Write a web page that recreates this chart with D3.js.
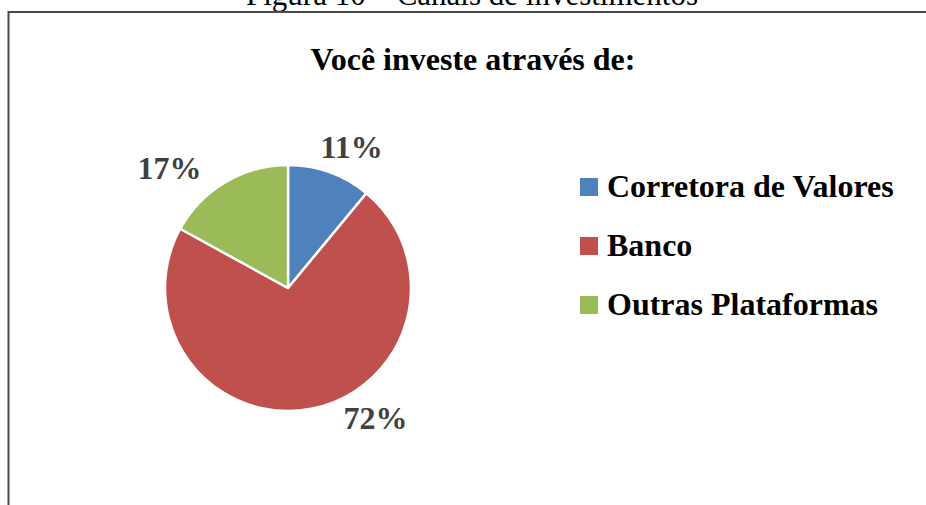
<!DOCTYPE html>
<html>
<head>
<meta charset="utf-8">
<script src="https://cdn.jsdelivr.net/npm/d3@7"></script>
<style>
  html, body { margin: 0; padding: 0; background: #fff; }
  svg { display: block; }
</style>
</head>
<body>
<svg id="chart" width="926" height="505"></svg>
<script>
// ---- data ----
const categories = ["Corretora de Valores", "Banco", "Outras Plataformas"];
const values = [11, 72, 17];
const colors = ["#4F81BD", "#C0504D", "#9BBB59"];
const chartTitle = "Você investe através de:";
const figureCaption = "Figura 10 – Canais de investimentos";

// ---- layout ----
const W = 926, H = 505;
const cx = 288, cy = 288, R = 123;
const labelRadius = 158;
// per-slice label offsets (in data order: Corretora, Banco, Outras)
const labelNudge = [[10, 19], [58, -14], [-38, 27]];
const fontFam = "'Liberation Serif', 'Times New Roman', serif";

const svg = d3.select("#chart");

// caption (cut off at top)
svg.append("text")
  .attr("x", 472).attr("y", 5)
  .attr("text-anchor", "middle")
  .style("font-family", fontFam)
  .style("font-size", "31px")
  .attr("fill", "#000")
  .text(figureCaption);

// border (left and top)
svg.append("path")
  .attr("d", `M8.5,${H} L8.5,12 L${W + 2},12`)
  .attr("fill", "none")
  .attr("stroke", "#4a4a4a")
  .attr("stroke-width", 2);

// title
svg.append("text")
  .attr("x", 473).attr("y", 70)
  .attr("text-anchor", "middle")
  .style("font-family", fontFam)
  .style("font-weight", "bold")
  .style("font-size", "32px")
  .attr("fill", "#000")
  .text(chartTitle);

// pie
const pie = d3.pie().sort(null).value(d => d);
const arcs = pie(values);
const arc = d3.arc().innerRadius(0).outerRadius(R);
const labelArc = d3.arc().innerRadius(labelRadius).outerRadius(labelRadius);

const g = svg.append("g").attr("transform", `translate(${cx},${cy})`);
g.selectAll("path.slice")
  .data(arcs)
  .enter().append("path")
  .attr("class", "slice")
  .attr("d", arc)
  .attr("fill", (d, i) => colors[i])
  .attr("stroke", "#fff")
  .attr("stroke-width", 2.5)
  .attr("stroke-linejoin", "round");

g.selectAll("text.pct")
  .data(arcs)
  .enter().append("text")
  .attr("class", "pct")
  .attr("x", (d, i) => labelArc.centroid(d)[0] + labelNudge[i][0])
  .attr("y", (d, i) => labelArc.centroid(d)[1] + labelNudge[i][1])
  .attr("text-anchor", "middle")
  .style("font-family", fontFam)
  .style("font-weight", "bold")
  .style("font-size", "32px")
  .attr("fill", "#404040")
  .text(d => d.data + "%");

// legend
const legendX = 580, legendY0 = 197, legendStep = 59;
const lg = svg.append("g");
categories.forEach((c, i) => {
  const y = legendY0 + i * legendStep;
  lg.append("rect")
    .attr("x", legendX).attr("y", y - 19)
    .attr("width", 18).attr("height", 18)
    .attr("fill", colors[i]);
  lg.append("text")
    .attr("x", legendX + 27).attr("y", y)
    .style("font-family", fontFam)
    .style("font-weight", "bold")
    .style("font-size", "32px")
    .attr("fill", "#000")
    .text(c);
});
</script>
</body>
</html>
